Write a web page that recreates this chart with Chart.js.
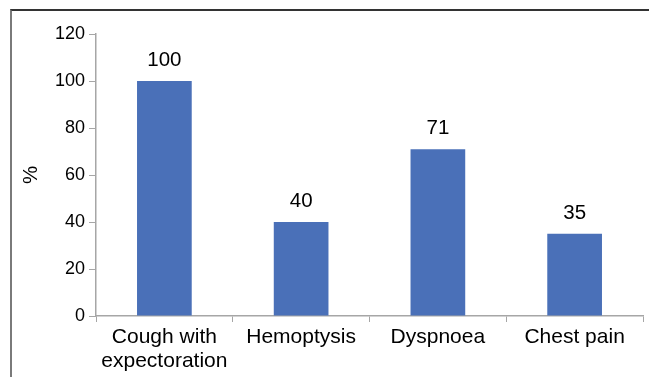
<!DOCTYPE html>
<html>
<head>
<meta charset="utf-8">
<script src="https://cdn.jsdelivr.net/npm/chart.js@4.4.1/dist/chart.umd.min.js"></script>
<style>
  html, body { margin: 0; padding: 0; background: #fff; }
  #wrap { position: relative; width: 649px; height: 377px; overflow: hidden; }
  #frame { position: absolute; left: 10px; top: 9px; width: 660px; height: 400px;
           border-top: 2px solid #333; border-left: 2px solid #7a7a7a; box-sizing: border-box; }
  canvas { position: absolute; left: 0; top: 0; }
</style>
</head>
<body>
<div id="wrap">
  <div id="frame"></div>
  <canvas id="c" width="649" height="377"></canvas>
</div>
<script>
const categories = [["Cough with", "expectoration"], "Hemoptysis", "Dyspnoea", "Chest pain"];
const values = [100, 40, 71, 35];
const yTicks = [0, 20, 40, 60, 80, 100, 120];

const FONT = "'Liberation Sans', Arial, sans-serif";

const valueLabels = {
  id: 'valueLabels',
  afterDatasetsDraw(chart) {
    const ctx = chart.ctx;
    const meta = chart.getDatasetMeta(0);
    ctx.save();
    ctx.font = '20.5px ' + FONT;
    ctx.fillStyle = '#000';
    ctx.textAlign = 'center';
    ctx.textBaseline = 'alphabetic';
    meta.data.forEach((bar, i) => {
      ctx.fillText(String(values[i]), bar.x, bar.y - 15);
    });
    ctx.restore();
  }
};

new Chart(document.getElementById('c'), {
  type: 'bar',
  data: {
    labels: categories,
    datasets: [{
      data: values,
      backgroundColor: '#4a70b8',
      borderWidth: 0,
      categoryPercentage: 1.0,
      barPercentage: 0.4
    }]
  },
  options: {
    responsive: false,
    animation: false,
    devicePixelRatio: 1,
    layout: { padding: { left: 0, right: 6, top: 34, bottom: 0 } },
    plugins: { legend: { display: false }, tooltip: { enabled: false } },
    scales: {
      x: {
        grid: { display: true, drawOnChartArea: false, drawTicks: true, tickLength: 6, color: '#a6a6a6', offset: true },
        border: { display: true, color: '#a6a6a6', width: 1.5 },
        ticks: { color: '#000', font: { size: 21, family: FONT, lineHeight: 1.143 }, padding: 3, maxRotation: 0, autoSkip: false },
        afterFit(scale) { scale.height = 61; }
      },
      y: {
        min: 0, max: 120,
        afterBuildTicks(scale) { scale.ticks = yTicks.map(v => ({ value: v })); },
        grid: { display: true, drawOnChartArea: false, drawTicks: true, tickLength: 7, color: '#a6a6a6' },
        border: { display: true, color: '#a6a6a6', width: 1.5 },
        ticks: { color: '#000', font: { size: 18, family: FONT }, padding: 4 },
        title: { display: true, text: '%', color: '#000', font: { size: 20.5, family: FONT }, padding: { top: 19, bottom: 0 } },
        afterFit(scale) { scale.width = 96; }
      }
    }
  },
  plugins: [valueLabels]
});
</script>
</body>
</html>
